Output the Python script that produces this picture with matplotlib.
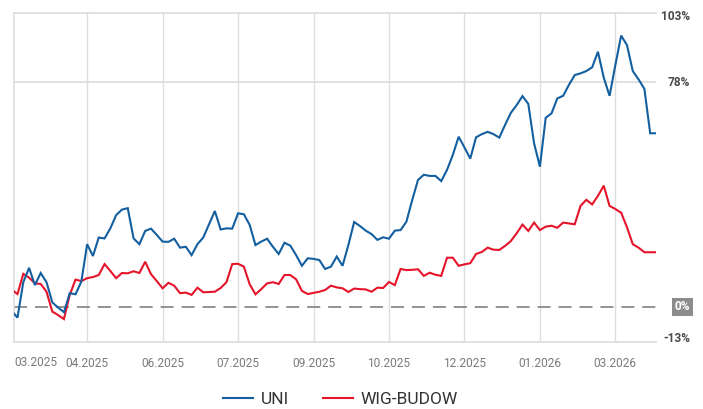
import numpy as np
import matplotlib
matplotlib.use("Agg")
import matplotlib.pyplot as plt
from matplotlib.lines import Line2D

plt.rcParams['font.family'] = ['Roboto', 'DejaVu Sans']

# ---- data (percent change), one value per observation index ----
obs_index = np.arange(1, 113)

uni = [
    -1.4, -3.7, 8.6, 13.6, 7.6, 11.8, 8.6, 1.6, -0.2, -1.8,
    4.8, 4.4, 8.8, 21.8, 17.7, 24.1, 23.8, 27.3, 31.9, 33.8,
    34.3, 23.8, 21.8, 26.4, 27.2, 25.0, 22.7, 22.6, 23.7, 20.6,
    20.9, 18.0, 21.8, 24.1, 28.7, 33.3, 26.9, 27.3, 27.2, 32.5,
    32.2, 28.5, 21.5, 22.7, 23.7, 20.9, 18.4, 22.3, 21.3, 18.0,
    14.3, 16.9, 16.7, 16.3, 13.2, 14.0, 17.5, 14.3, 21.5, 29.5,
    28.1, 26.5, 25.3, 23.3, 24.2, 23.7, 26.5, 26.7, 29.6, 37.1,
    44.1, 45.9, 45.5, 45.5, 43.7, 47.6, 52.8, 59.1, 55.4, 51.5,
    58.9, 60.0, 60.8, 60.0, 58.8, 63.2, 67.4, 70.1, 73.2, 70.5,
    56.8, 48.7, 65.7, 67.2, 72.4, 73.3, 77.1, 80.5, 81.1, 81.9,
    83.2, 88.6, 79.6, 73.3, 84.0, 94.2, 90.9, 81.9, 79.0, 75.7,
    60.3, 60.3,
]

wig_budow = [
    6.0, 4.5, 11.5, 10.2, 8.2, 8.0, 5.3, -1.6, -2.8, -4.2,
    4.2, 9.5, 9.0, 10.0, 10.4, 11.1, 14.9, 12.5, 10.0, 11.8,
    11.7, 12.4, 11.8, 15.7, 11.4, 9.0, 6.5, 8.4, 7.4, 4.8,
    5.0, 4.2, 6.7, 5.1, 5.2, 5.3, 6.6, 8.6, 14.9, 15.0,
    14.0, 7.9, 4.4, 6.2, 8.2, 8.6, 8.0, 11.1, 11.1, 9.6,
    5.6, 4.5, 4.9, 5.3, 5.9, 7.4, 6.8, 6.5, 5.2, 6.4,
    6.2, 6.1, 5.3, 6.7, 6.6, 8.7, 7.6, 13.2, 12.8, 12.9,
    13.1, 10.8, 11.9, 11.2, 10.8, 17.1, 17.1, 14.3, 14.8, 15.2,
    18.4, 19.1, 20.6, 19.9, 19.8, 21.2, 22.9, 25.6, 28.6, 26.4,
    29.3, 26.7, 27.9, 28.2, 27.5, 29.3, 29.0, 28.7, 35.1, 37.2,
    35.6, 38.6, 42.1, 35.1, 34.0, 32.7, 27.7, 21.8, 20.6, 19.0,
    19.0, 19.0,
]

series_names = ["UNI", "WIG-BUDOW"]
series_colors = ["#135f9f", "#e5142a"]

tick_index = [14, 27, 40, 53, 66, 79, 92, 105]
tick_labels = ["04.2025", "06.2025", "07.2025", "09.2025",
               "10.2025", "12.2025", "01.2026", "03.2026"]
first_label = "03.2025"

y_min, y_max = -12.15, 102.15

# ---- figure ----
W, H = 703, 409
fig = plt.figure(figsize=(W / 100, H / 100), dpi=100)
ax = fig.add_axes([14 / W, 1 - 342 / H, (656 - 14) / W, (342 - 12.7) / H])

ax.set_xlim(1.4, 112)
ax.set_ylim(y_min, y_max)

grid_c = "#dedede"
for t in tick_index:
    ax.axvline(t, color=grid_c, lw=1.0, zorder=1)
ax.axhline(78, color=grid_c, lw=1.3, zorder=1)
ax.axhline(y_max, color=grid_c, lw=1.3, zorder=1, clip_on=False)

for s in ["top", "right"]:
    ax.spines[s].set_visible(False)
ax.spines["left"].set_color(grid_c)
ax.spines["bottom"].set_color(grid_c)
ax.spines["left"].set_linewidth(1.2)
ax.spines["bottom"].set_linewidth(1.3)

# zero line
ax.axhline(0, color="#8a8a8a", lw=1.3, linestyle=(0, (7.2, 4.4)), zorder=2)

ax.plot(obs_index, uni, color=series_colors[0], lw=1.5, zorder=4,
        solid_joinstyle="miter")
ax.plot(obs_index, wig_budow, color=series_colors[1], lw=1.5, zorder=3,
        solid_joinstyle="miter")

ax.set_yticks([])
ax.set_xticks(tick_index)
ax.set_xticklabels(tick_labels, fontsize=8.6, color="#7a7a7a")
ax.tick_params(axis="x", length=0, pad=10.5)
ax.text(1.4 + 0.15, -0.061, first_label, transform=ax.get_xaxis_transform(),
        ha="left", va="center", fontsize=8.6, color="#7a7a7a")

# right side labels
xr = (690 - 14) / (656 - 14)
trans = ax.get_yaxis_transform()
ax.text(xr, 101.0, "103%", transform=trans, ha="right", va="center",
        fontsize=8.6, color="#4a4a4a", fontweight="bold", clip_on=False)
ax.text(xr, 78, "78%", transform=trans, ha="right", va="center",
        fontsize=8.6, color="#4a4a4a", fontweight="bold", clip_on=False)
ax.text(xr, -11.0, "-13%", transform=trans, ha="right", va="center",
        fontsize=8.6, color="#4a4a4a", fontweight="bold", clip_on=False)
ax.text(xr, 0, "0%", transform=trans, ha="right", va="center",
        fontsize=8.6, color="white", fontweight="bold", clip_on=False,
        bbox=dict(boxstyle="square,pad=0.25", fc="#8c8c8c", ec="none"))

handles = [Line2D([0], [0], color=c, lw=1.5) for c in series_colors]
fig.legend(handles, series_names, loc="center",
           bbox_to_anchor=(340.5 / W, 1 - 399 / H), ncol=2, frameon=False,
           fontsize=12.5, handlelength=1.73, handletextpad=0.4,
           columnspacing=2.0, labelcolor="#333333")

fig.savefig("out.png", dpi=100)
